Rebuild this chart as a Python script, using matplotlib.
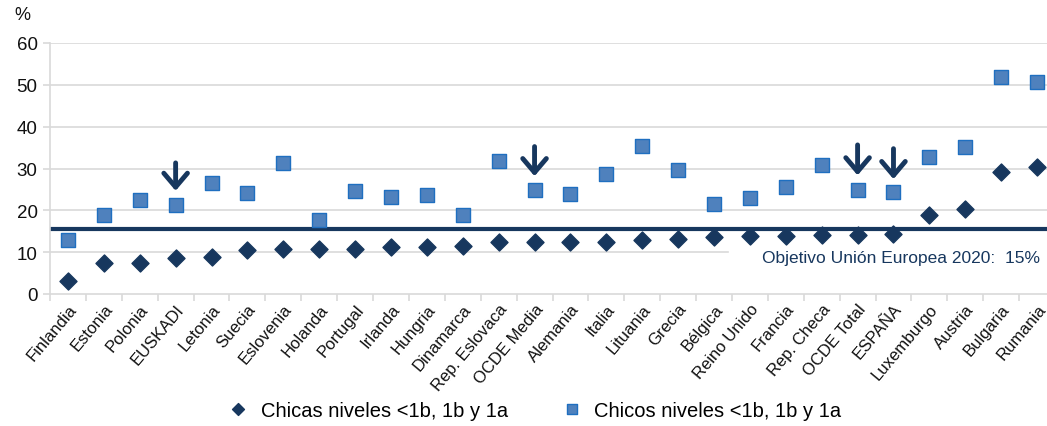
import matplotlib.pyplot as plt
import numpy as np

plt.rcParams["font.family"] = ["Liberation Sans", "DejaVu Sans"]

paises = ["Finlandia", "Estonia", "Polonia", "EUSKADI", "Letonia", "Suecia",
          "Eslovenia", "Holanda", "Portugal", "Irlanda", "Hungria", "Dinamarca",
          "Rep. Eslovaca", "OCDE Media", "Alemania", "Italia", "Lituania",
          "Grecia", "Bélgica", "Reino Unido", "Francia", "Rep. Checa",
          "OCDE Total", "ESPAÑA", "Luxemburgo", "Austria", "Bulgaria", "Rumania"]
chicas = [3.2, 7.3, 7.3, 8.5, 8.8, 10.4, 10.7, 10.7, 10.8, 11.2, 11.3, 11.5,
          12.5, 12.4, 12.5, 12.5, 12.8, 13.1, 13.7, 13.8, 13.9, 14.1, 14.2,
          14.3, 19.0, 20.2, 29.1, 30.4]
chicos = [12.9, 18.9, 22.5, 21.3, 26.5, 24.1, 31.2, 17.8, 24.6, 23.3, 23.6,
          19.0, 31.9, 24.9, 24.0, 28.8, 35.4, 29.6, 21.4, 23.0, 25.6, 30.8,
          24.9, 24.5, 32.8, 35.1, 51.9, 50.7]
objetivo = 15.5
# arrows: (category, tail, tip)
flechas = [("EUSKADI", 32.0, 24.0), ("OCDE Media", 35.9, 27.5),
           ("OCDE Total", 36.3, 27.7), ("ESPAÑA", 35.4, 26.8)]

navy = "#17375e"
blue = "#4f81bd"
grid = "#d9d9d9"

fig = plt.figure(figsize=(10.47, 4.27), dpi=100)
ax = fig.add_axes([50 / 1047, 1 - 295 / 427, 1005 / 1047, 251 / 427])

x = np.arange(len(paises))
ax.set_xlim(-0.5, len(paises) - 0.5)
ax.set_ylim(0, 60)
ax.set_yticks(range(0, 61, 10))

for v in range(10, 61, 10):
    if v == 10:
        # gridline at 10 hidden behind the target label box
        ax.plot([-0.5, 18.4], [v, v], color=grid, lw=1.2, zorder=0)
    else:
        ax.axhline(v, color=grid, lw=1.2, zorder=0)

ax.axhline(objetivo, color=navy, lw=3, zorder=2)

ax.scatter(x, chicas, marker="D", s=75, color=navy, zorder=3,
           label="Chicas niveles <1b, 1b y 1a")
ax.scatter(x, chicos, marker="s", s=110, color=blue, edgecolor="#1f6fc0",
           linewidth=1, zorder=3, label="Chicos niveles <1b, 1b y 1a")

for name, tail, tip in flechas:
    i = paises.index(name)
    ax.annotate("", xy=(i, tip), xytext=(i, tail),
                arrowprops=dict(arrowstyle="->,head_width=0.85,head_length=1.0",
                                color=navy, lw=3.5), zorder=4)

fig.text(1040 / 1047, 1 - 258 / 427, "Objetivo Unión Europea 2020:  15%",
         ha="right", va="center", fontsize=12.5, color=navy, zorder=5)

for s in ["top", "right"]:
    ax.spines[s].set_visible(False)
for s in ["left", "bottom"]:
    ax.spines[s].set_color(grid)
    ax.spines[s].set_linewidth(1.2)

ax.set_xticks(x)
ax.set_xticklabels(paises, rotation=50, ha="right", rotation_mode="anchor",
                   fontsize=12, color="#111111")
ax.set_xticks(np.arange(-0.5, len(paises), 1), minor=True)
ax.tick_params(axis="x", which="major", length=0, pad=5)
ax.tick_params(axis="x", which="minor", length=5, color=grid, width=1.2)
ax.tick_params(axis="y", length=5, color=grid, width=1.2, labelsize=13.5,
               labelcolor="#111111", pad=4)

fig.text(22 / 1047, 1 - 16 / 427, "%", fontsize=13, color="#111111",
         ha="center", va="center")

fig.legend(loc="center", bbox_to_anchor=(0.506, 1 - 412 / 427), ncol=2,
           frameon=False, fontsize=14.5, handletextpad=0.1, columnspacing=2.2,
           markerscale=0.7, scatteryoffsets=[0.5])

fig.savefig("out.png", dpi=100)
